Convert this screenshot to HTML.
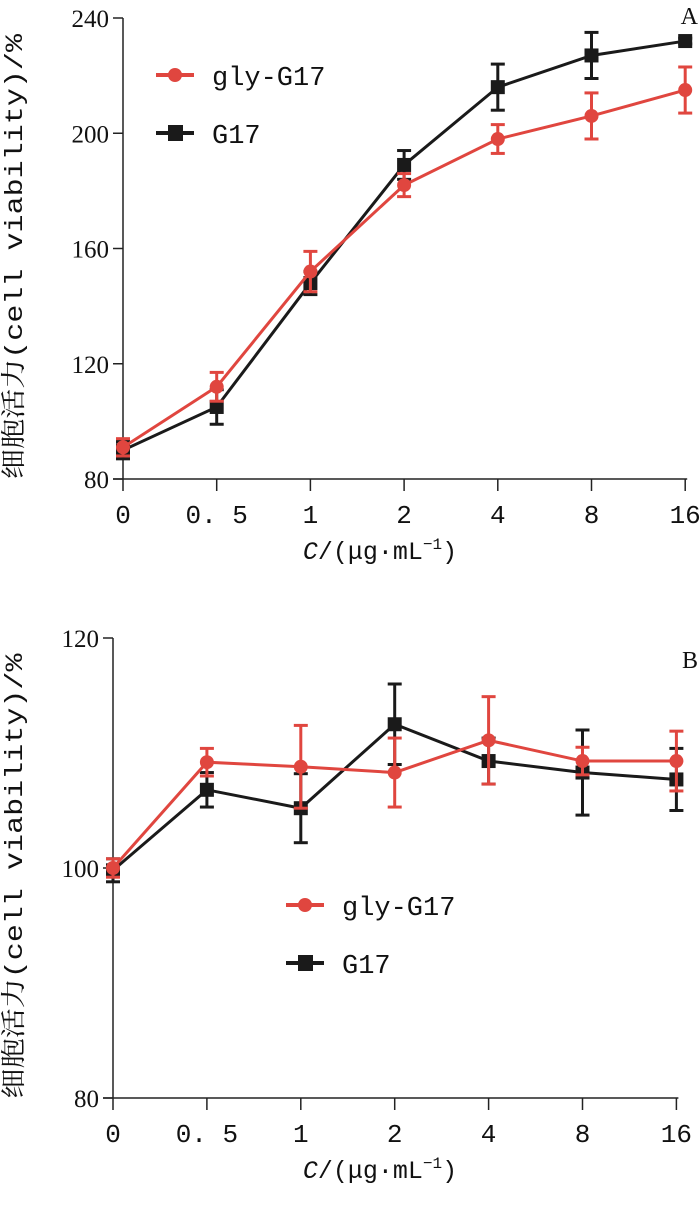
<!DOCTYPE html>
<html><head><meta charset="utf-8"><style>
html,body{margin:0;padding:0;background:#fff;}
svg{display:block;font-family:"Liberation Serif","Noto Serif CJK SC",serif;}
</style></head><body>
<svg id="chart" width="700" height="1211" viewBox="0 0 700 1211" xmlns="http://www.w3.org/2000/svg"></svg>
<script>
const categories = ["0","0.5","1","2","4","8","16"];
const aGlyValues = [91,112,152,182,198,206,215];
const aGlyErr = [3,5,7,4,5,8,8];
const aG17Values = [90,105,148,189,216,227,232];
const aG17Err = [3,6,4,5,8,8,1];
const aTicks = [80,120,160,200,240];
const bGlyValues = [100,109.2,108.8,108.3,111.1,109.3,109.3];
const bGlyErr = [0.8,1.2,3.6,3.0,3.8,1.2,2.6];
const bG17Values = [99.8,106.8,105.2,112.5,109.3,108.3,107.7];
const bG17Err = [1,1.5,3,3.5,2,3.7,2.7];
const bTicks = [80,100,120];

const NS="http://www.w3.org/2000/svg";
const svg=document.getElementById('chart');
function mk(tag,attrs,parent,text){const e=document.createElementNS(NS,tag);for(const k in attrs)e.setAttribute(k,attrs[k]);if(text!==undefined)e.textContent=text;(parent||svg).appendChild(e);return e;}
const RED="#e0463f", BLK="#1a1a1a";
const MONO='"Liberation Mono","Noto Serif CJK SC",monospace';

function panel(p){
  const g=mk('g',{});
  
  
  const xs=i=>p.x0+i*p.dx;
  const ys=v=>p.yb-(v-p.ymin)/(p.ymax-p.ymin)*(p.yb-p.yt);
  const ya=mk('line',{x1:p.x0,y1:p.yt,x2:p.x0,y2:p.yb+12,stroke:"#222","stroke-width":1.5},g);
  
  const xa=mk('line',{x1:p.x0-10,y1:p.yb,x2:xs(6)+2,y2:p.yb,stroke:"#222","stroke-width":1.5},g);
  
  p.ticks.forEach(t=>{
    mk('line',{x1:p.x0-10,y1:ys(t),x2:p.x0,y2:ys(t),stroke:"#222","stroke-width":1.5},g);
    const l=mk('text',{x:p.x0-14,y:ys(t)+9,"text-anchor":"end","font-size":25,fill:"#111"},g,String(t));
    
  });
  categories.forEach((c,i)=>{
    if(i>0) mk('line',{x1:xs(i),y1:p.yb,x2:xs(i),y2:p.yb+12,stroke:"#222","stroke-width":1.5},g);
    const l=mk('text',{x:xs(i),y:p.yb+44,"text-anchor":"middle","font-size":26,fill:"#111","font-family":MONO},g,c.replace('.','. '));
    
  });
  const yt=mk('text',{transform:`translate(${p.ytx},${(p.yt+p.yb)/2+8}) rotate(-90)`,"text-anchor":"middle","font-size":25,fill:"#111","font-family":MONO,textLength:p.ytl,lengthAdjust:"spacingAndGlyphs"},g,"细胞活力(cell viability)/%");
  
  const xt=mk('text',{x:380,y:p.yb+80,"text-anchor":"middle","font-size":25,fill:"#111","font-family":MONO},g);
  
  mk('tspan',{"font-style":"italic"},xt,"C");
  mk('tspan',{},xt,"/(μg·mL");
  mk('tspan',{dy:-10,"font-size":16},xt,"−1");
  mk('tspan',{dy:10},xt,")");
  const pl=mk('text',{x:698,y:p.lby,"text-anchor":"end","font-size":24,fill:"#111"},g,p.label);
  
  const series=[{v:p.g17,e:p.g17e,c:BLK,sq:true,n:'g17'},{v:p.gly,e:p.glye,c:RED,sq:false,n:'gly-g17'}];
  series.forEach(s=>{
    const pts=s.v.map((v,i)=>xs(i)+','+ys(v)).join(' ');
    const ln=mk('polyline',{points:pts,fill:"none",stroke:s.c,"stroke-width":3},g);
    
    s.v.forEach((v,i)=>{
      const x=xs(i),y1=ys(v+s.e[i]),y2=ys(v-s.e[i]);
      mk('line',{x1:x,y1:y1,x2:x,y2:y2,stroke:s.c,"stroke-width":3},g);
      mk('line',{x1:x-7,y1:y1,x2:x+7,y2:y1,stroke:s.c,"stroke-width":3},g);
      mk('line',{x1:x-7,y1:y2,x2:x+7,y2:y2,stroke:s.c,"stroke-width":3},g);
      let m;
      if(s.sq) m=mk('rect',{x:x-7,y:ys(v)-7,width:14,height:14,fill:s.c},g);
      else m=mk('circle',{cx:x,cy:ys(v),r:7,fill:s.c},g);
      
    });
  });
  const lg=mk('g',{},g);
  
  [[RED,false,'gly-G17',0],[BLK,true,'G17',58]].forEach(([c,sq,t,dy])=>{
    const e=mk('g',{},lg);
    
    const y=p.ly+dy;
    mk('line',{x1:p.lx,y1:y,x2:p.lx+38,y2:y,stroke:c,"stroke-width":4},e);
    if(sq) mk('rect',{x:p.lx+12,y:y-8,width:15,height:16,fill:c},e);
    else mk('circle',{cx:p.lx+19,cy:y,r:7,fill:c},e);
    mk('text',{x:p.lx+56,y:y+10,"font-size":27,fill:"#111","font-family":MONO},e,t);
  });
}
panel({name:'panel-a',x0:123,dx:93.7,yb:479,yt:18,ymin:80,ymax:240,ticks:aTicks,gly:aGlyValues,glye:aGlyErr,g17:aG17Values,g17e:aG17Err,label:'A',lby:24,lx:156,ly:75,ytx:22,ytl:445});
panel({name:'panel-b',x0:113,dx:93.9,yb:1098,yt:638,ymin:80,ymax:120,ticks:bTicks,gly:bGlyValues,glye:bGlyErr,g17:bG17Values,g17e:bG17Err,label:'B',lby:668,lx:286,ly:905,ytx:22,ytl:445});
</script>
</body></html>
